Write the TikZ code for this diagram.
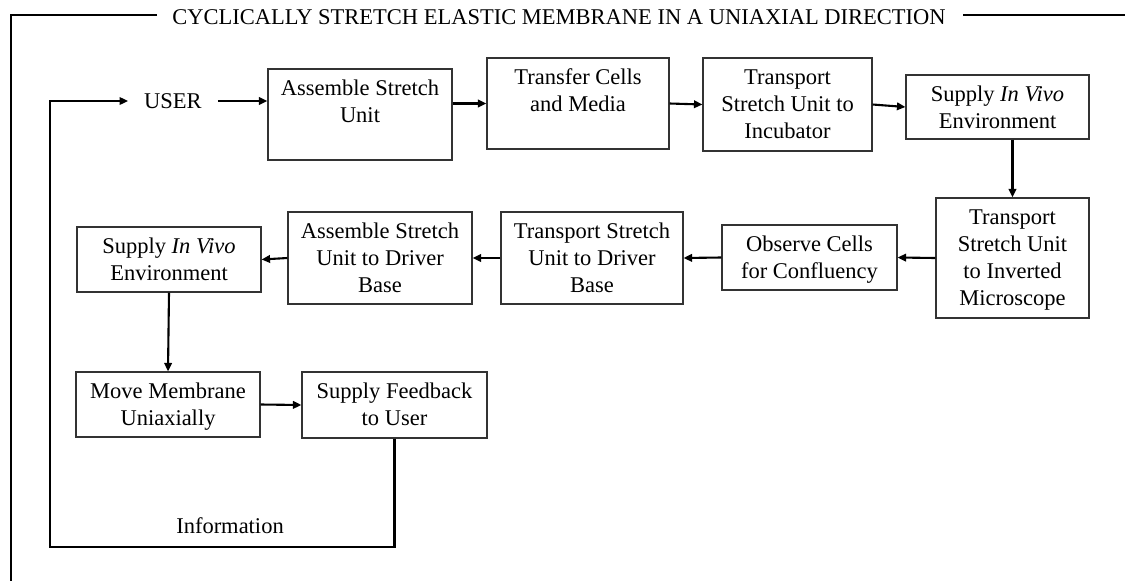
\documentclass[tikz,border=0pt]{standalone}
\usepackage{fontspec}
\setmainfont{Liberation Serif}
\usetikzlibrary{arrows.meta,calc}
\begin{document}
\begin{tikzpicture}[x=1pt,y=-1pt,
  box/.style={draw=black!80,line width=1.1pt,inner sep=0pt},
  lbl/.style={font=\fontsize{22.5}{27}\selectfont,align=center,inner sep=0pt,anchor=north},
  plain/.style={font=\fontsize{22.5}{27}\selectfont,inner sep=0pt},
  arr/.style={line width=2.1pt,-{Triangle[length=8.5pt,width=7.5pt]}},
  frame/.style={line width=2.6pt}]
\useasboundingbox (0,0) rectangle (1125,581);
% title and frame
\node[plain] (title) at (559,17) {CYCLICALLY STRETCH ELASTIC MEMBRANE IN A UNIAXIAL DIRECTION};
\draw[frame] (157,15) -- (11,15) -- (11,582);
\draw[frame] (963,15) -- (1126,15);
% boxes
\node[box,minimum width=184pt,minimum height=91pt] (asm) at (360,114.5) {};
\node[box,minimum width=182pt,minimum height=91pt] (tr) at (578,103.5) {};
\node[box,minimum width=169pt,minimum height=93pt] (tinc) at (787.5,104.5) {};
\node[box,minimum width=183pt,minimum height=64pt] (sup1) at (997.5,107) {};
\node[box,minimum width=153pt,minimum height=120pt] (tim) at (1012.5,258) {};
\node[box,minimum width=175pt,minimum height=65pt] (obs) at (809.5,257.5) {};
\node[box,minimum width=182pt,minimum height=92pt] (tdb) at (592,258) {};
\node[box,minimum width=184pt,minimum height=92pt] (adb) at (380,258) {};
\node[box,minimum width=184pt,minimum height=65pt] (sup2) at (169,259.5) {};
\node[box,minimum width=184pt,minimum height=65pt] (mv) at (168,404.5) {};
\node[box,minimum width=185pt,minimum height=66pt] (fb) at (394.5,405) {};
% texts
\node[lbl] (asm-t) at ([yshift=-7.5pt]asm.north) {\strut Assemble Stretch\\Unit};
\node[lbl] (tr-t) at ([yshift=-7.5pt]tr.north) {\strut Transfer Cells\\and Media};
\node[lbl] (tinc-t) at ([yshift=-7.5pt]tinc.north) {\strut Transport\\Stretch Unit to\\Incubator};
\node[lbl] (sup1-t) at ([yshift=-7.5pt]sup1.north) {\strut Supply \textit{In Vivo}\\Environment};
\node[lbl] (tim-t) at ([yshift=-7.5pt]tim.north) {\strut Transport\\Stretch Unit\\to Inverted\\Microscope};
\node[lbl] (obs-t) at ([yshift=-7.5pt]obs.north) {\strut Observe Cells\\for Confluency};
\node[lbl] (tdb-t) at ([yshift=-7.5pt]tdb.north) {\strut Transport Stretch\\Unit to Driver\\Base};
\node[lbl] (adb-t) at ([yshift=-7.5pt]adb.north) {\strut Assemble Stretch\\Unit to Driver\\Base};
\node[lbl] (sup2-t) at ([yshift=-7.5pt]sup2.north) {\strut Supply \textit{In Vivo}\\Environment};
\node[lbl] (mv-t) at ([yshift=-7.5pt]mv.north) {\strut Move Membrane\\Uniaxially};
\node[lbl] (fb-t) at ([yshift=-7.5pt]fb.north) {\strut Supply Feedback\\to User};
% user and info
\node[plain,inner xsep=16pt] (user) at (173,101) {USER};
\node[plain] (info) at (230,526) {Information};
% connectors
\draw[arr] (user.east) -- (user.east -| asm.west);
\draw[arr] (asm.east |- tr.west) -- (tr.west);
\draw[arr] (tr.east) -- (tinc.west);
\draw[arr] (tinc.east) -- (sup1.west);
\draw[arr] (sup1.south -| tim.north) -- (tim.north);
\draw[arr] (tim.west) -- (obs.east);
\draw[arr] (obs.west) -- (tdb.east);
\draw[arr] (tdb.west) -- (adb.east);
\draw[arr] (adb.west) -- (sup2.east);
\draw[arr] (sup2.south) -- (mv.north);
\draw[arr] (mv.east) -- (fb.west);
\coordinate (loop) at (50,547);
\draw[arr] (fb.south) |- (loop) |- (user.west);
\end{tikzpicture}
\end{document}
